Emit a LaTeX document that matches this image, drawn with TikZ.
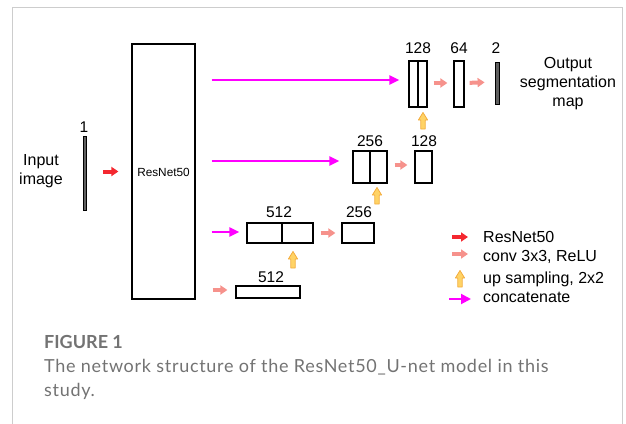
\documentclass[tikz,border=0pt]{standalone}
\usepackage{fontspec}
\setmainfont{Liberation Sans}
\newfontfamily\capfont{Lato}
\newfontfamily\capwidefont[LetterSpace=3.9]{Lato}
\usetikzlibrary{arrows.meta,calc}

\definecolor{frameGray}{RGB}{205,205,205}
\definecolor{resRed}{RGB}{244,40,48}
\definecolor{convPink}{RGB}{246,146,140}
\definecolor{catMag}{RGB}{255,0,255}
\definecolor{upFill}{RGB}{255,211,102}
\definecolor{upEdge}{RGB}{244,172,60}
\definecolor{barGray}{RGB}{95,95,95}
\definecolor{capGray}{RGB}{115,115,115}

\tikzset{
  layer/.style={draw=black, line width=1.2pt, inner sep=0pt, anchor=center},
  thinbar/.style={draw=black, fill=barGray, line width=0.8pt, inner sep=0pt},
  num/.style={font=\fontsize{15.5}{18}\selectfont, inner sep=0pt, anchor=base},
  lbl/.style={font=\fontsize{16}{19}\selectfont, inner sep=0pt, align=center},
  legtxt/.style={font=\fontsize{16}{19}\selectfont, inner sep=0pt, anchor=base west},
  captxt/.style={font=\capwidefont\fontsize{18}{22}\selectfont, text=capGray, inner sep=0pt, anchor=base west},
  resarrow/.style={draw=resRed, line width=4pt, -{Triangle[length=7pt,width=9pt]}},
  convarrow/.style={draw=convPink, line width=4pt, -{Triangle[length=7pt,width=9pt]}},
  catarrow/.style={draw=catMag, line width=2pt, -{Triangle[length=10pt,width=9pt]}},
  uparr/.pic={\filldraw[fill=upFill, draw=upEdge, line width=0.8pt, line join=round]
     (-2.2,0) -- (-2.2,-9) -- (-4.6,-9) -- (0,-16.5) -- (4.6,-9) -- (2.2,-9) -- (2.2,0) -- cycle;}
}

\begin{document}
\begin{tikzpicture}[x=1pt, y=-1pt]
\useasboundingbox (0,0) rectangle (626,423);

% card frame, open at the bottom
\draw[frameGray, line width=1pt] (12,430) -- (12,7) -- (622,7) -- (622,430);

% input and backbone
\node[thinbar, minimum width=3pt, minimum height=74pt] (inbar) at (84.5,173) {};
\node[num] (l1) at (84,132) {1};
\node[lbl] (intxt) at (41,171) {Input\\image};
\node[layer, minimum width=63pt, minimum height=255pt] (resnet) at (163.5,171.5) {};
\node[font=\fontsize{11.8}{14}\selectfont, inner sep=0pt] (restxt) at (163.5,172) {ResNet50};

% decoder blocks
\node[layer, minimum width=64pt, minimum height=12pt] (b512) at (268,292) {};
\node[num] (lb512) at (271,282) {512};
\node[layer, minimum width=66pt, minimum height=20pt] (c512) at (280,233) {};
\draw[line width=1.2pt] (c512.north) ++(2,0) coordinate (d512t) -- (d512t |- c512.south);
\node[num] (lc512) at (279,217) {512};
\node[layer, minimum width=32pt, minimum height=20pt] (b256) at (358,233) {};
\node[num] (lb256) at (359,217) {256};

\node[layer, minimum width=34pt, minimum height=32pt] (c256) at (370,167) {};
\draw[line width=1.2pt] (c256.north) -- (c256.south);
\node[num] (lc256) at (370,146) {256};
\node[layer, minimum width=17pt, minimum height=32pt] (b128) at (423.5,167) {};
\node[num] (lb128) at (424,146) {128};

\node[layer, minimum width=18pt, minimum height=46pt] (c128) at (418,84) {};
\draw[line width=1.2pt] (c128.north) -- (c128.south);
\node[num] (lc128) at (418,53) {128};
\node[layer, minimum width=10pt, minimum height=46pt] (b64) at (459,84) {};
\node[num] (lb64) at (459,53) {64};
\node[thinbar, minimum width=4pt, minimum height=42pt] (bar2) at (497,83) {};
\node[num] (lbar2) at (496,53) {2};
\node[lbl] (outtxt) at (568,84) {Output\\segmentation\\map};

% connectors
\draw[resarrow, shorten <=17pt, shorten >=13pt] (inbar.east |- resnet) -- (resnet.west);
\draw[catarrow, shorten <=16pt, shorten >=9pt] ([yshift=4pt]resnet.east |- c128) -- ([yshift=4pt]c128.west);
\draw[catarrow, shorten <=16pt, shorten >=13pt] ([yshift=6pt]resnet.east |- c256) -- ([yshift=6pt]c256.west);
\draw[catarrow, shorten <=16pt, shorten >=7pt] ([yshift=1pt]resnet.east |- c512) -- ([yshift=1pt]c512.west);
\draw[convarrow, shorten <=17pt, shorten >=8pt] ([yshift=2pt]resnet.east |- b512) -- ([yshift=2pt]b512.west);
\draw[convarrow, shorten <=7pt, shorten >=6pt] (c512.east) -- (b256.west);
\draw[convarrow, shorten <=7pt, shorten >=7pt] ([yshift=2pt]c256.east) -- ([yshift=2pt]b128.west);
\draw[convarrow, shorten <=6pt, shorten >=6pt] ([yshift=1pt]c128.east) -- ([yshift=1pt]b64.west);
\draw[convarrow, shorten <=5pt, shorten >=10pt] ([yshift=1pt]b64.east) -- ([yshift=1pt]bar2.west);

% up-sampling arrows
\pic (up1) at (293,268) {uparr};
\pic (up2) at (377,204) {uparr};
\pic (up3) at (423,129) {uparr};

% legend
\coordinate (lg1) at (452,237);
\coordinate (lg2) at (452,254);
\coordinate (lg4) at (449,299);
\draw[resarrow] (lg1) -- ++(16,0);
\draw[convarrow] (lg2) -- ++(16,0);
\pic (lg3) at (460,287) {uparr};
\draw[catarrow, -{Triangle[length=10pt,width=10pt]}] (lg4) -- ++(22,0);
\node[legtxt] (t1) at (483,242) {ResNet50};
\node[legtxt] (t2) at (483,261) {conv 3x3, ReLU};
\node[legtxt] (t3) at (483,283) {up sampling, 2x2};
\node[legtxt] (t4) at (483,302) {concatenate};

% caption
\node[font=\capfont\bfseries\fontsize{18}{22}\selectfont, text=capGray, inner sep=0pt, anchor=base west] (fig) at (44,348) {FIGURE 1};
\node[captxt] (cap1) at (44,372) {The network structure of the ResNet50\_U-net model in this};
\node[captxt] (cap2) at (44,396) {study.};
\end{tikzpicture}
\end{document}
